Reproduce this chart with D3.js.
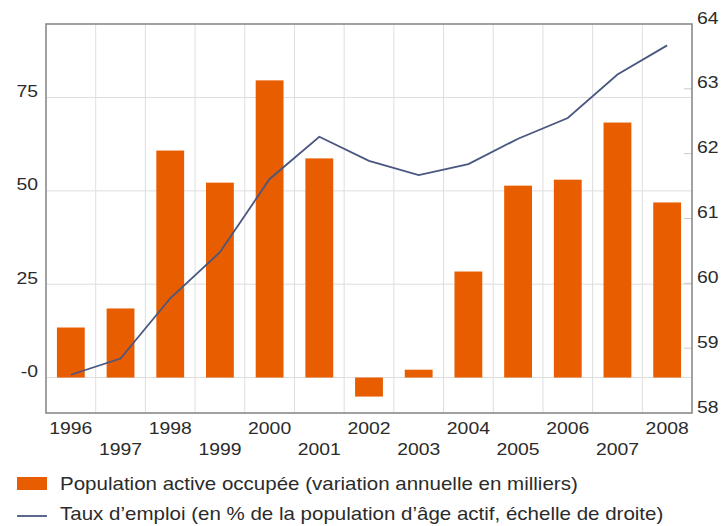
<!DOCTYPE html>
<html><head><meta charset="utf-8">
<script src="https://cdn.jsdelivr.net/npm/d3@7"></script>
<style>body{margin:0;background:#fff}svg{display:block}text{font-family:"Liberation Sans",Arial,sans-serif;fill:#2b2b2b}</style>
</head><body>
<svg id="c" width="724" height="526"></svg>
<script>
const years = ["1996","1997","1998","1999","2000","2001","2002","2003","2004","2005","2006","2007","2008"];
const popActive = [13.4,18.5,60.8,52.2,79.6,58.7,-5.1,2.1,28.4,51.4,53.0,68.3,46.9];
const tauxEmploi = [58.59,58.84,59.77,60.48,61.61,62.26,61.89,61.67,61.84,62.23,62.55,63.22,63.67];
const leftTicks = [0,25,50,75];
const leftTickLabels = ["-0","25","50","75"];
const rightTicks = [58,59,60,61,62,63,64];
const legendLabels = ["Population active occupée (variation annuelle en milliers)","Taux d\u2019emploi (en % de la population d\u2019âge actif, échelle de droite)"];

const svg = d3.select("#c");
const L=46, R=692, T=24, B=413;
const SX = 1.14;
const x = d3.scaleBand().domain(years).range([L,R]).padding(0);
const yL = d3.scaleLinear().domain([-9.5,94.7]).range([B,T]);
const yR = d3.scaleLinear().domain([58,64]).range([B,T]);
const barC = "#e85d00", lineC = "#4a5780", gridC = "#dedede";
const tr = (px,py)=>`translate(${px},${py}) scale(${SX},1)`;

svg.append("g").selectAll("line").data(years.slice(1)).join("line")
  .attr("x1",d=>x(d)).attr("x2",d=>x(d)).attr("y1",T).attr("y2",B)
  .attr("stroke",gridC).attr("stroke-width",1);
svg.append("g").selectAll("line").data(leftTicks).join("line")
  .attr("x1",L).attr("x2",R).attr("y1",d=>yL(d)).attr("y2",d=>yL(d))
  .attr("stroke",gridC).attr("stroke-width",1);
svg.append("g").selectAll("line").data(rightTicks.slice(1,-1)).join("line")
  .attr("x1",R-8).attr("x2",R).attr("y1",d=>yR(d)).attr("y2",d=>yR(d))
  .attr("stroke","#c8c8c8").attr("stroke-width",1);

const bw = x.bandwidth()*0.56;
svg.append("g").selectAll("rect").data(years).join("rect")
  .attr("x",(d)=>x(d)+(x.bandwidth()-bw)/2)
  .attr("width",bw)
  .attr("y",(d,i)=>yL(Math.max(0,popActive[i])))
  .attr("height",(d,i)=>Math.abs(yL(popActive[i])-yL(0)))
  .attr("fill",barC);

const line = d3.line().x((d,i)=>x(years[i])+x.bandwidth()/2).y(d=>yR(d));
svg.append("path").datum(tauxEmploi).attr("d",line)
  .attr("fill","none").attr("stroke",lineC).attr("stroke-width",1.8);

svg.append("rect").attr("x",L).attr("y",T).attr("width",R-L).attr("height",B-T)
  .attr("fill","none").attr("stroke","#8a8a8a").attr("stroke-width",1.6);

svg.append("g").selectAll("text").data(leftTicks).join("text")
  .attr("transform",d=>tr(38,yL(d)-0.5)).attr("text-anchor","end")
  .attr("font-size",17).text((d,i)=>leftTickLabels[i]);
svg.append("g").selectAll("text").data(rightTicks).join("text")
  .attr("transform",d=>tr(697,yR(d)-0.5))
  .attr("font-size",17).text(d=>d);
svg.append("g").selectAll("text").data(years).join("text")
  .attr("transform",(d,i)=>tr(x(d)+x.bandwidth()/2, i%2===0?434:455))
  .attr("text-anchor","middle").attr("font-size",17).text(d=>d);

svg.append("rect").attr("x",17).attr("y",477).attr("width",30).attr("height",13).attr("fill",barC);
svg.append("text").attr("transform",tr(60,490)).attr("font-size",18).text(legendLabels[0]);
svg.append("line").attr("x1",17).attr("x2",47).attr("y1",516).attr("y2",516).attr("stroke",lineC).attr("stroke-width",1.8);
svg.append("text").attr("transform",tr(60,520)).attr("font-size",18).text(legendLabels[1]);
</script>
</body></html>
